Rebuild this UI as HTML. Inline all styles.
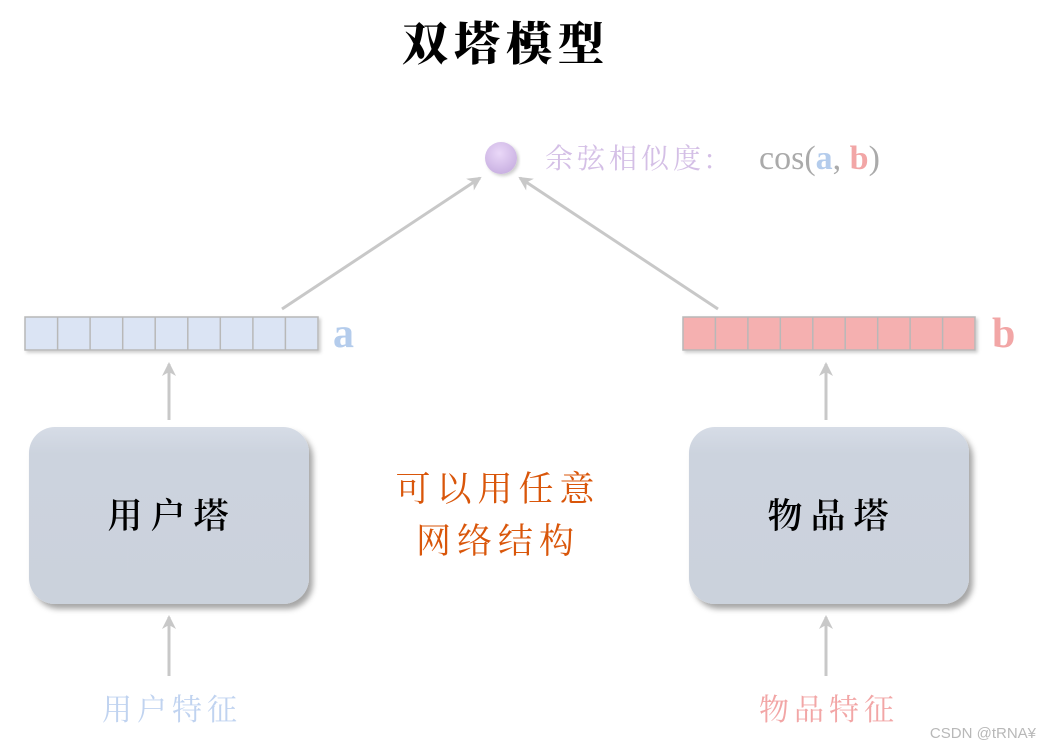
<!DOCTYPE html>
<html><head><meta charset="utf-8">
<style>
html,body{margin:0;padding:0;background:#fff;}
svg{display:block;}
.cjk{font-family:"Noto Serif CJK SC","Noto Sans CJK SC",serif;}
</style></head>
<body>
<svg width="1040" height="750" viewBox="0 0 1040 750" xmlns="http://www.w3.org/2000/svg">
<defs>
<filter id="sh" x="-10%" y="-10%" width="130%" height="130%">
<feDropShadow dx="4" dy="5" stdDeviation="3" flood-color="#000" flood-opacity="0.35"/>
</filter>
<filter id="sh2" x="-10%" y="-50%" width="120%" height="200%">
<feDropShadow dx="2" dy="2" stdDeviation="1.5" flood-color="#000" flood-opacity="0.2"/>
</filter>
<radialGradient id="ball" cx="0.45" cy="0.35" r="0.7">
<stop offset="0" stop-color="#ead8f8"/><stop offset="1" stop-color="#c7aee0"/>
</radialGradient>
<linearGradient id="box" x1="0" y1="0" x2="0" y2="1">
<stop offset="0" stop-color="#d6dce6"/><stop offset="0.15" stop-color="#ccd3de"/><stop offset="1" stop-color="#cbd2dc"/>
</linearGradient>
<marker id="ar" markerWidth="16" markerHeight="14" refX="12" refY="7" orient="auto" markerUnits="userSpaceOnUse">
<path d="M0,0 L14,7 L0,14 L4,7 Z" fill="#c8c8c8"/>
</marker>
</defs>

<text x="506" y="60" text-anchor="middle" class="cjk" font-size="46" font-weight="900" fill="#000" letter-spacing="6">双塔模型</text>

<!-- node -->
<circle cx="501" cy="158" r="16" fill="url(#ball)" filter="url(#sh2)"/>
<text x="545" y="168" class="cjk" font-size="28" fill="#d4bfe6" letter-spacing="4">余弦相似度:</text>
<text x="759" y="169" font-family="Liberation Serif,serif" font-size="34" fill="#aaaaaa">cos(<tspan fill="#b4ccec" font-weight="bold">a</tspan>, <tspan fill="#f2a6a6" font-weight="bold">b</tspan>)</text>

<!-- arrows to node -->
<line x1="282" y1="309" x2="480" y2="178" stroke="#c8c8c8" stroke-width="3" marker-end="url(#ar)"/>
<line x1="718" y1="309" x2="520" y2="178" stroke="#c8c8c8" stroke-width="3" marker-end="url(#ar)"/>

<!-- vector a -->
<g filter="url(#sh2)">
<rect x="25" y="317" width="293" height="33" fill="#dbe4f4" stroke="#b8b8b8" stroke-width="1.5"/>
</g>
<g stroke="#b8b8b8" stroke-width="1.5">
<line x1="57.6" y1="317" x2="57.6" y2="350"/><line x1="90.1" y1="317" x2="90.1" y2="350"/><line x1="122.7" y1="317" x2="122.7" y2="350"/><line x1="155.2" y1="317" x2="155.2" y2="350"/><line x1="187.8" y1="317" x2="187.8" y2="350"/><line x1="220.3" y1="317" x2="220.3" y2="350"/><line x1="252.9" y1="317" x2="252.9" y2="350"/><line x1="285.4" y1="317" x2="285.4" y2="350"/>
</g>
<text x="333" y="347" font-family="Liberation Serif,serif" font-weight="bold" font-size="42" fill="#b4ccec">a</text>

<!-- vector b -->
<g filter="url(#sh2)">
<rect x="683" y="317" width="292" height="33" fill="#f5b0b0" stroke="#b8b8b8" stroke-width="1.5"/>
</g>
<g stroke="#b8b8b8" stroke-width="1.5">
<line x1="715.4" y1="317" x2="715.4" y2="350"/><line x1="747.9" y1="317" x2="747.9" y2="350"/><line x1="780.3" y1="317" x2="780.3" y2="350"/><line x1="812.8" y1="317" x2="812.8" y2="350"/><line x1="845.2" y1="317" x2="845.2" y2="350"/><line x1="877.7" y1="317" x2="877.7" y2="350"/><line x1="910.1" y1="317" x2="910.1" y2="350"/><line x1="942.6" y1="317" x2="942.6" y2="350"/>
</g>
<text x="992" y="347" font-family="Liberation Serif,serif" font-weight="bold" font-size="42" fill="#f2a6a6">b</text>

<!-- vertical arrows -->
<g stroke="#c8c8c8" stroke-width="3" marker-end="url(#ar)">
<line x1="169" y1="420" x2="169" y2="364"/>
<line x1="826" y1="420" x2="826" y2="364"/>
<line x1="169" y1="676" x2="169" y2="617"/>
<line x1="826" y1="676" x2="826" y2="617"/>
</g>

<!-- towers -->
<rect x="29" y="427" width="280" height="177" rx="26" fill="url(#box)" filter="url(#sh)"/>
<rect x="689" y="427" width="280" height="177" rx="26" fill="url(#box)" filter="url(#sh)"/>
<text x="172" y="528" text-anchor="middle" class="cjk" font-size="35" font-weight="600" fill="#000" letter-spacing="8">用户塔</text>
<text x="832" y="528" text-anchor="middle" class="cjk" font-size="35" font-weight="600" fill="#000" letter-spacing="8">物品塔</text>

<!-- middle text -->
<text x="498" y="501" text-anchor="middle" class="cjk" font-size="35" fill="#d9560a" letter-spacing="6">可以用任意</text>
<text x="498" y="553" text-anchor="middle" class="cjk" font-size="35" fill="#d9560a" letter-spacing="6">网络结构</text>

<!-- features -->
<text x="172" y="720" text-anchor="middle" class="cjk" font-size="30" fill="#c0d3f0" letter-spacing="5">用户特征</text>
<text x="829" y="720" text-anchor="middle" class="cjk" font-size="30" fill="#f2a6a6" letter-spacing="5">物品特征</text>

<text x="1036" y="738" text-anchor="end" font-family="Liberation Sans,sans-serif" font-size="15" fill="#b8b8b8">CSDN @tRNA¥</text>
</svg>
</body></html>
